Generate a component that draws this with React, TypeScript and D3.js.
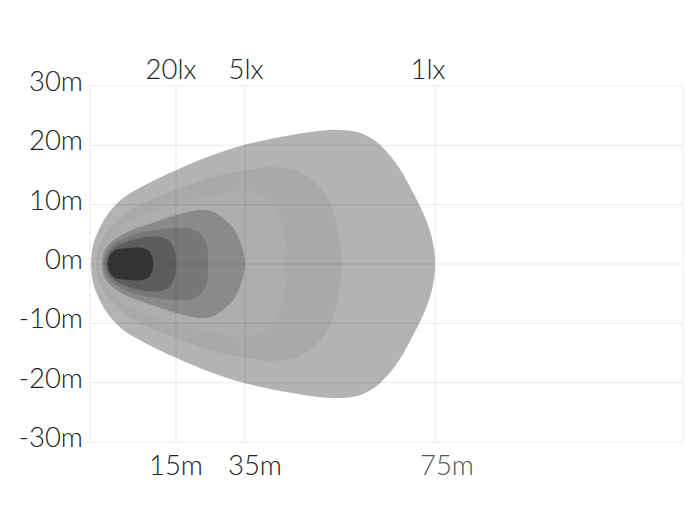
import React from 'react';
import * as d3 from 'd3';

// Distance gridlines (m) and the lux value whose contour ends there
const distanceTicks = [15, 35, 75];
const distanceLabels = ['15m', '35m', '75m'];
const luxLabels = ['20lx', '5lx', '1lx'];
const widthTicks = [30, 20, 10, 0, -10, -20, -30];

// Upper half of each isolux contour, [distance m, lateral m], left to right.
// The beam is symmetric about 0m, so the lower half is the mirror image.
const contour1 = [[0.2, 0], [0.5, 3.0], [1.6, 5.9], [3.1, 8.4], [5.6, 11.0], [9.6, 13.3], [15, 15.8], [24.9, 18.2], [35, 20.1], [44.5, 21.7], [50.5, 22.4], [55, 22.6], [58.8, 22.2], [62.3, 20.8], [65.2, 18.6], [67.8, 15.8], [70, 12.6], [72, 9.5], [73.6, 6.4], [74.6, 3.4], [75, 0]];
const contour2 = [[1.0, 0], [1.7, 3.2], [3.5, 6.1], [6.6, 8.8], [10.5, 10.8], [15, 12.5], [24.9, 14.5], [35, 15.8], [40.7, 16.3], [45.5, 15.8], [49.7, 13.8], [52.9, 10.3], [54.6, 5.7], [55.4, 0]];
const contour3 = [[1.6, 0], [2.3, 2.9], [3.8, 5.2], [7, 7.4], [10.5, 8.8], [15, 9.9], [24.9, 11.5], [33.6, 12.3], [37.7, 12], [40.7, 10.3], [42.8, 7.1], [43.6, 3.5], [43.8, 0]];
const contour4 = [[2.1, 0], [2.6, 2.4], [4, 3.9], [7, 5.6], [9.9, 6.6], [15.3, 8.3], [22, 9.1], [25.4, 8.9], [28.3, 7.9], [31.5, 6.1], [33.8, 3.4], [35, 0]];
const contour5 = [[2.4, 0], [3, 2], [4.4, 3.5], [7, 4.7], [10.5, 5.6], [14.8, 6.1], [19.6, 5.9], [22.5, 4.9], [24, 2.9], [24.3, 0]];
const contour6 = [[2.8, 0], [3.3, 1.7], [4.5, 2.9], [7, 3.9], [10.1, 4.6], [12.2, 4.6], [13.8, 3.9], [14.7, 2.4], [15, 0]];
const contour7 = [[3.1, 0], [3.5, 1.5], [4.5, 2.4], [6.6, 2.7], [9.1, 2.7], [10.3, 2.2], [10.8, 1.3], [11, 0]];

const contours = [contour1, contour2, contour3, contour4, contour5, contour6, contour7];
const fills = ['#b3b3b3', '#a9a9a9', '#adadad', '#8a8a8a', '#777777', '#5d5d5d', '#333333'];

const W = 700;
const H = 525;
const left = 90;
const right = 683;
const top = 86;
const bottom = 442;

// label nudges so the text sits where the original puts it
const bottomNudge = [0, 10, 12];
const topNudge = [-5, 1, -7];

const FONT = 'Lato, "Open Sans", "DejaVu Sans", sans-serif';

export default function App() {
  // piecewise distance axis: the original's gridlines are not evenly spaced
  const x = d3.scaleLinear().domain([0, 15, 35, 75, 127]).range([left, 176, 245, 435, right]);
  const y = d3.scaleLinear().domain([-30, 30]).range([bottom, top]);

  const line = d3.line<number[]>()
    .x(d => x(d[0]))
    .y(d => y(d[1]))
    .curve(d3.curveCatmullRomClosed.alpha(0.5));

  const closed = (pts: number[][]) => {
    const lower = pts.slice(1, -1).reverse().map(p => [p[0], -p[1]]);
    return [...pts, ...lower];
  };

  const grid = 'rgba(0,0,0,0.09)';

  return (
    <svg width={W} height={H} style={{ position: 'absolute', left: 0, top: 0, background: '#fff' }}>
      {contours.map((c, i) => (
        <path key={i} d={line(closed(c)) || ''} fill={fills[i]} />
      ))}

      {/* grid on top of the beam */}
      {widthTicks.map(t => (
        <line key={'h' + t} x1={left} x2={right} y1={y(t)} y2={y(t)} stroke={grid} />
      ))}
      {[0, ...distanceTicks, 127].map(t => (
        <line key={'v' + t} x1={x(t)} x2={x(t)} y1={top} y2={bottom} stroke={grid} />
      ))}

      <g fontFamily={FONT} fontWeight={300} fontSize={27.5} fill="#222">
        {widthTicks.map(t => (
          <text key={'yl' + t} x={83} y={y(t) + 5} textAnchor="end">{t}m</text>
        ))}
        {distanceTicks.map((t, i) => (
          <text key={'xl' + t} x={x(t) + bottomNudge[i]} y={475} textAnchor="middle"
            fill={i === 2 ? '#555' : '#222'}>{distanceLabels[i]}</text>
        ))}
        {distanceTicks.map((t, i) => (
          <text key={'lx' + t} x={x(t) + topNudge[i]} y={79} textAnchor="middle">{luxLabels[i]}</text>
        ))}
      </g>
    </svg>
  );
}
